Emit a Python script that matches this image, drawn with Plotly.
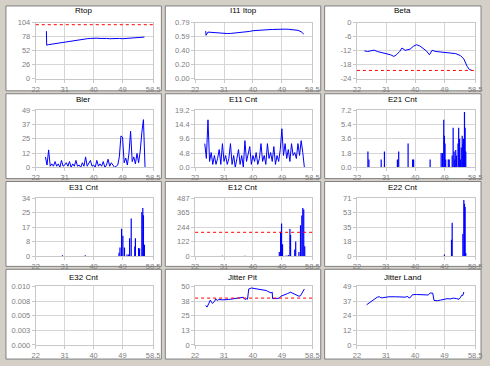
import plotly.graph_objects as go

W, H = 490, 366

# ---------------- data ----------------
x_ticks = [22, 31, 40, 49, 58.5]
x_tick_text = ["22", "31", "40", "49", "58.5"]

rtop_x = [25.3, 25.4, 26, 27, 28, 29, 30, 31, 32, 33, 34, 35, 36, 37, 38, 39, 40, 41, 42, 43, 44,
          45, 46, 47, 48, 49, 50, 51, 52, 53, 54, 55, 55.8]
rtop_y = [88, 62, 63, 64, 65, 66, 67, 68, 69, 70, 71, 71.5, 72, 73, 74, 74.5, 75, 75, 74.5, 75, 74.5,
          74, 74.5, 74, 74.5, 74, 74.5, 75, 75.5, 75, 76, 76.5, 77]
rtop_limit = 100

i11_x = rtop_x
i11_y = [0.67, 0.61, 0.655, 0.65, 0.645, 0.64, 0.638, 0.636, 0.635, 0.636, 0.64, 0.645, 0.65, 0.655,
         0.66, 0.665, 0.675, 0.68, 0.682, 0.685, 0.687, 0.69, 0.692, 0.695, 0.697, 0.698, 0.697,
         0.695, 0.693, 0.69, 0.68, 0.66, 0.628]

beta_x = [24.3, 25.3, 26.3, 27.3, 28.3, 29.3, 30.8, 32.4, 33.4, 34.2, 35.2, 35.9, 36.9, 38.4, 39.4,
          40.4, 41.4, 42.4, 43.4, 44.4, 45.2, 46.4, 48.4, 50.4, 52.5, 54.0, 55.0, 56.0, 56.7, 57.5]
beta_y = [-12.1, -12.4, -12.1, -11.8, -12.4, -12.8, -13.1, -13.8, -14.5, -13.8, -12.4, -10.9, -11.9,
          -11.4, -10.2, -9.5, -10.0, -10.9, -12.1, -13.8, -11.9, -12.4, -12.8, -13.1, -13.3, -14.2,
          -15.6, -18.7, -20.1, -20.5]
beta_limit = -20.5

x_half = [25.0, 25.5, 26.0, 26.5, 27.0, 27.5, 28.0, 28.5, 29.0, 29.5, 30.0, 30.5, 31.0, 31.5, 32.0,
          32.5, 33.0, 33.5, 34.0, 34.5, 35.0, 35.5, 36.0, 36.5, 37.0, 37.5, 38.0, 38.5, 39.0, 39.5,
          40.0, 40.5, 41.0, 41.5, 42.0, 42.5, 43.0, 43.5, 44.0, 44.5, 45.0, 45.5, 46.0, 46.5, 47.0,
          47.5, 48.0, 48.5, 49.0, 49.5, 50.0, 50.5, 51.0, 51.5, 52.0, 52.5, 53.0, 53.5, 54.0, 54.5,
          55.0, 55.5, 56.0]

bler_y = [9, 2, 15, 1, 3, 1, 5, 1, 3, 0, 6, 1, 2, 4, 1,
          5, 0, 3, 1, 6, 1, 2, 0, 4, 1, 9, 1, 3, 6, 1,
          2, 0, 6, 1, 3, 1, 5, 0, 2, 7, 1, 4, 2, 0, 1,
          2, 9, 27, 26, 4, 8, 2, 12, 31, 5, 9, 3, 12, 4, 14,
          30, 41, 0]

e11_y = [8, 3, 16, 2, 5, 1, 4, 1, 3, 6, 1, 8, 2, 4, 1,
         3, 8, 1, 4, 0, 3, 6, 1, 4, 0, 9, 2, 5, 7, 1,
         4, 2, 5, 1, 3, 8, 2, 4, 1, 8, 3, 5, 2, 7, 1,
         4, 2, 6, 13, 4, 8, 3, 6, 2, 8, 4, 5, 3, 8, 4,
         9, 5, 0]

e21_x = [25.4, 25.7, 29.5, 30.5, 34.5, 34.9, 37.8, 39.2, 39.5, 44.6, 48.0, 48.4, 48.8, 49.0, 49.2,
         49.4, 50.2, 50.5, 51.4, 51.7, 52.0, 52.2, 52.5, 52.7, 53.2, 53.4, 53.7, 54.0, 54.2, 54.5,
         54.7, 54.9, 55.2, 55.4, 55.6]
e21_y = [2.0, 1.0, 1.0, 2.0, 1.0, 2.0, 3.0, 1.0, 1.0, 1.0, 1.8, 1.8, 6.0, 4.0, 3.0,
         1.0, 1.0, 1.0, 1.5, 5.0, 2.0, 1.0, 2.2, 1.5, 3.0, 5.0, 3.6, 1.0, 2.5, 4.0,
         3.0, 3.6, 7.0, 5.0, 2.0]

e31_x = [30.3, 37.4, 47.9, 48.2, 48.7, 49.1, 49.6, 50.4, 50.9, 51.2, 51.7, 52.8, 53.0, 54.0, 54.3,
         55.0, 55.3, 55.5, 55.8]
e31_y = [0.5, 0.5, 2, 5, 16, 12, 5, 1, 1, 10.5, 22, 5.7, 10.5, 4.8, 4.5,
         25.8, 28.2, 24, 6.7]

e12_x = [30.5, 37.5, 48.2, 48.6, 48.9, 49.2, 50.3, 51.0, 51.5, 51.7, 53.0, 53.3, 54.3, 54.8, 55.2,
         55.5, 55.8, 56.1]
e12_y = [3, 3, 35, 205, 274, 100, 5, 10, 227, 178, 55, 123, 35, 260, 342,
         405, 391, 82]
e12_limit = 200

e22_x = [49.0, 51.2, 51.4, 54.7, 55.0, 55.2, 55.4, 55.6]
e22_y = [2, 20, 41, 27, 68.6, 64, 60, 4]

e32_x = []
e32_y = []

jp_x = [25.3, 25.7, 26.2, 26.7, 27.4, 28.1, 28.4, 28.9, 29.4, 30.4, 32.4, 34.5, 36.0, 37.0, 37.5,
        38.0, 38.3, 38.7, 39.5, 41.0, 42.6, 44.1, 44.6, 45.6, 46.0, 46.1, 47.2, 48.2, 48.7, 49.7,
        50.7, 51.7, 52.7, 53.7, 54.3, 54.8, 55.3, 56.0]
jp_y = [33.7, 32.3, 35.0, 38.2, 35.4, 37.4, 39.3, 38.0, 38.8, 38.5, 38.8, 39.5, 40.3, 40.7, 38.8,
        39.5, 39.0, 47.8, 48.6, 48.0, 47.2, 46.5, 45.8, 44.4, 45.0, 39.6, 39.6, 40.0, 41.6, 42.5,
        43.8, 45.0, 43.8, 42.8, 41.6, 42.0, 45.0, 47.8]
jp_limit = 40

jl_x = [25.0, 25.5, 26.0, 27.0, 27.8, 28.3, 29.0, 29.4, 29.9, 30.9, 31.9, 33.9, 34.9, 35.9, 36.9,
        37.7, 38.1, 38.7, 39.1, 40.4, 41.8, 43.3, 44.0, 44.6, 45.4, 45.8, 46.8, 47.8, 48.8, 49.8,
        50.8, 51.8, 52.8, 53.5, 53.9, 54.3, 54.7, 55.0]
jl_y = [33.6, 34.5, 35.9, 37.8, 38.5, 40.0, 40.3, 39.5, 39.5, 40.0, 40.3, 40.3, 40.0, 40.3, 40.0,
        40.6, 39.2, 40.3, 42.0, 42.2, 42.0, 42.2, 41.8, 43.4, 43.4, 37.3, 37.0, 37.5, 38.2, 38.7,
        38.5, 39.2, 38.7, 38.2, 39.5, 41.5, 41.5, 44.3]

# ---------------- layout ----------------
BG = "#d4d0c8"
BLUE = "#0000ff"
TICK_FONT = dict(family="Liberation Sans, Arial, sans-serif", size=7.5, color="#808080")
TITLE_FONT = dict(family="Liberation Sans, Arial, sans-serif", size=8, color="#000000")

col_plot = [(32.5, 152.5), (195.5, 315.5), (361.0, 482.0)]
row_plot = [(19, 76.5), (109, 167.5), (199, 258.5), (289.5, 349.5)]
col_panel = [(2, 161), (165, 324), (328, 488)]
row_panel = [(2, 89), (92, 179), (182, 269), (272, 364)]
title_y = [7, 98, 188.5, 280]

panels = [
    dict(title="Rtop", kind="line", x=rtop_x, y=rtop_y, rng=[0, 104], tv=[0, 26, 52, 78, 104],
         tt=["0", "26", "52", "78", "104"], limit=rtop_limit),
    dict(title="I11 Itop", kind="line", x=i11_x, y=i11_y, rng=[0, 0.79],
         tv=[0, 0.1975, 0.395, 0.5925, 0.79], tt=["0.00", "0.20", "0.40", "0.59", "0.79"]),
    dict(title="Beta", kind="line", x=beta_x, y=beta_y, rng=[-24.0001, 0.0001],
         tv=[-24, -18, -12, -6, 0], tt=["-24", "-18", "-12", "-6", "0"], limit=beta_limit),
    dict(title="Bler", kind="line", x=x_half, y=bler_y, rng=[0, 49], tv=[0, 12.25, 24.5, 36.75, 49],
         tt=["0", "12", "25", "37", "49"]),
    dict(title="E11 Cnt", kind="line", x=x_half, y=e11_y, rng=[0, 19.2], tv=[0, 4.8, 9.6, 14.4, 19.2],
         tt=["0.0", "4.8", "9.6", "14.4", "19.2"]),
    dict(title="E21 Cnt", kind="spike", x=e21_x, y=e21_y, rng=[0, 7.2], tv=[0, 1.8, 3.6, 5.4, 7.2],
         tt=["0.0", "1.8", "3.6", "5.4", "7.2"]),
    dict(title="E31 Cnt", kind="spike", x=e31_x, y=e31_y, rng=[0, 34], tv=[0, 8.5, 17, 25.5, 34],
         tt=["0", "8", "17", "25", "34"]),
    dict(title="E12 Cnt", kind="spike", x=e12_x, y=e12_y, rng=[0, 487],
         tv=[0, 121.75, 243.5, 365.25, 487], tt=["0", "122", "244", "365", "487"], limit=e12_limit),
    dict(title="E22 Cnt", kind="spike", x=e22_x, y=e22_y, rng=[0, 71], tv=[0, 17.75, 35.5, 53.25, 71],
         tt=["0", "18", "35", "53", "71"]),
    dict(title="E32 Cnt", kind="spike", x=e32_x, y=e32_y, rng=[0, 0.01],
         tv=[0, 0.0025, 0.005, 0.0075, 0.01], tt=["0.000", "0.003", "0.005", "0.008", "0.010"]),
    dict(title="Jitter Pit", kind="line", x=jp_x, y=jp_y, rng=[0, 50], tv=[0, 12.5, 25, 37.5, 50],
         tt=["0", "13", "25", "38", "50"], limit=jp_limit),
    dict(title="Jitter Land", kind="line", x=jl_x, y=jl_y, rng=[0, 49], tv=[0, 12.25, 24.5, 36.75, 49],
         tt=["0", "12", "24", "37", "49"]),
]

fig = go.Figure()
layout = dict(width=W, height=H, margin=dict(l=0, r=0, t=0, b=0), paper_bgcolor=BG,
              plot_bgcolor="#ffffff", showlegend=False, shapes=[], annotations=[],
              hovermode=False)

for i, p in enumerate(panels):
    r, c = divmod(i, 3)
    n = i + 1
    xa = "x" if n == 1 else f"x{n}"
    ya = "y" if n == 1 else f"y{n}"
    x0, x1 = col_plot[c]
    y0, y1 = row_plot[r]
    px0, px1 = col_panel[c]
    py0, py1 = row_panel[r]
    # panel rectangle
    layout["shapes"].append(dict(type="rect", xref="paper", yref="paper", layer="below",
                                 x0=px0 / W, x1=px1 / W, y0=1 - py1 / H, y1=1 - py0 / H,
                                 fillcolor="#ffffff", line=dict(color="#808080", width=1)))
    layout["annotations"].append(dict(text=p["title"], xref="paper", yref="paper",
                                      x=(px0 + px1) / 2 / W, y=1 - title_y[r] / H,
                                      showarrow=False, font=TITLE_FONT, xanchor="center",
                                      yanchor="middle"))
    axis_common = dict(showgrid=True, gridcolor="#d6d6d6", gridwidth=1, showline=True,
                       linecolor="#c8c8c8", linewidth=1, mirror=True, zeroline=False,
                       tickfont=TICK_FONT, ticks="outside", ticklen=3, tickcolor="#c8c8c8")
    layout["xaxis" if n == 1 else f"xaxis{n}"] = dict(
        axis_common, domain=[x0 / W, x1 / W], range=[22, 58.5], tickvals=x_ticks,
        ticktext=x_tick_text, anchor=ya, fixedrange=True)
    layout["yaxis" if n == 1 else f"yaxis{n}"] = dict(
        axis_common, domain=[1 - y1 / H, 1 - y0 / H], range=p["rng"], tickvals=p["tv"],
        ticktext=p["tt"], anchor=xa, fixedrange=True)
    if p["kind"] == "line":
        fig.add_trace(go.Scatter(x=p["x"], y=p["y"], mode="lines", xaxis=xa, yaxis=ya,
                                 line=dict(color=BLUE, width=1)))
    else:
        # each count drawn as a thin vertical stroke from 0 to its value
        sx, sy = [], []
        for xv, yv in zip(p["x"], p["y"]):
            sx += [xv, xv, None]
            sy += [0, yv, None]
        fig.add_trace(go.Scatter(x=sx, y=sy, mode="lines", xaxis=xa, yaxis=ya,
                                 line=dict(color=BLUE, width=1.2), connectgaps=False))
    if "limit" in p:
        layout["shapes"].append(dict(type="line", xref=f"{xa} domain", yref=ya, x0=0, x1=1,
                                     y0=p["limit"], y1=p["limit"], layer="above",
                                     line=dict(color="#ff0000", width=1, dash="dot")))

fig.update_layout(**layout)
fig.write_html("out.html", config={"displayModeBar": False, "staticPlot": True},
               post_script="document.body.style.margin='0';")
